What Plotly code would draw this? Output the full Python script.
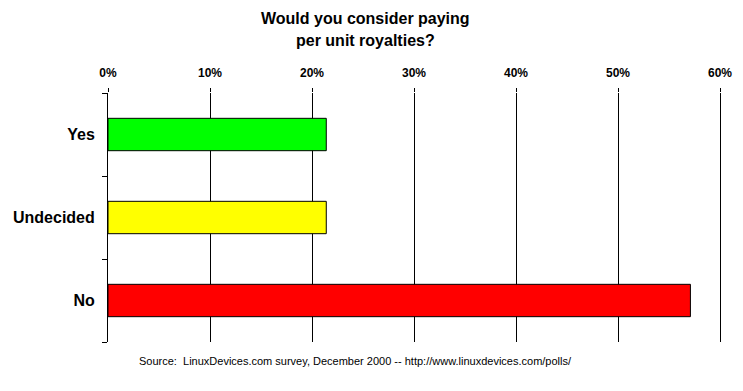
import plotly.graph_objects as go

categories = ["Yes", "Undecided", "No"]
values = [21.4, 21.4, 57.1]
colors = ["#00ff00", "#ffff00", "#ff0000"]
x_ticks = [0, 10, 20, 30, 40, 50, 60]
title_lines = ["Would you consider paying", "per unit royalties?"]
source = "Source:  LinuxDevices.com survey, December 2000 -- http://www.linuxdevices.com/polls/"

# the page body has an 8px margin, so the figure is drawn offset by 8px
OFF = 8
W, H = 743 - OFF, 391 - OFF
L, R, T, B = 108 - OFF, 720 - OFF, 93 - OFF, 342 - OFF

def py(px):
    return 1 - (px - OFF - T) / (B - T)

def pxx(px):
    return (px - OFF - L) / (R - L)

fig = go.Figure()
fig.add_trace(go.Bar(
    y=categories, x=values, orientation="h",
    marker=dict(color=colors, line=dict(color="black", width=1)),
    width=0.39, showlegend=False, hoverinfo="skip",
))

font = "Arial, Liberation Sans, sans-serif"
narrow = "Liberation Sans Narrow, Arial Narrow, Arial, sans-serif"
annotations = [
    dict(text=f"<b>{title_lines[0]}</b>", x=pxx(365), y=py(18)),
    dict(text=f"<b>{title_lines[1]}</b>", x=pxx(365), y=py(40)),
]
for a in annotations:
    a.update(xref="paper", yref="paper", xanchor="center", yanchor="middle",
             showarrow=False, font=dict(family=font, size=16, color="black"))
annotations.append(dict(
    text=source, xref="paper", yref="paper", x=pxx(355), y=py(361),
    xanchor="center", yanchor="middle", showarrow=False,
    font=dict(family=font, size=11, color="black")))

fig.update_layout(
    width=W, height=H,
    margin=dict(l=L, r=W - R, t=T, b=H - B, autoexpand=False),
    paper_bgcolor="white", plot_bgcolor="white",
    xaxis=dict(side="top", range=[0, 60], tickvals=x_ticks,
               ticktext=[f"<b>{v}%</b>" for v in x_ticks],
               showgrid=True, gridcolor="black", gridwidth=1,
               zeroline=False, showline=False,
               ticks="outside", ticklen=4, tickcolor="black",
               tickfont=dict(family=narrow, size=12, color="black"),
               ticklabelstandoff=6, automargin=False,
               fixedrange=True),
    yaxis=dict(categoryorder="array", categoryarray=categories,
               autorange="reversed",
               tickvals=categories,
               ticktext=[f"<b>{c}</b>" for c in categories],
               showline=True, linecolor="black", linewidth=1, mirror=True,
               ticks="outside", tickson="boundaries", ticklen=5,
               tickcolor="black", showgrid=False,
               tickfont=dict(family=font, size=16, color="black"),
               ticklabelstandoff=9, automargin=False,
               fixedrange=True),
    annotations=annotations,
)
fig.write_html("out.html")
